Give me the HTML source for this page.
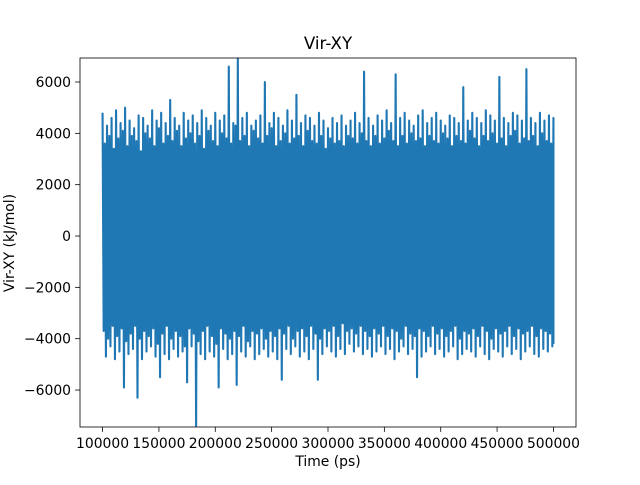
<!DOCTYPE html>
<html><head><meta charset="utf-8"><style>
body{margin:0;background:#fff;}
svg text{font-family:"DejaVu Sans","Liberation Sans",sans-serif;fill:#000;}
</style></head><body>
<svg id="chart" width="640" height="480">
<rect width="640" height="480" fill="#fff"/>
<g id="plot"></g>
<g id="axes"></g>
<text x="328" y="49" font-size="16.7" text-anchor="middle">Vir-XY</text>
<text x="328" y="466" font-size="13.9" text-anchor="middle">Time (ps)</text>
<text transform="translate(14,243) rotate(-90)" font-size="13.9" text-anchor="middle">Vir-XY (kJ/mol)</text>
</svg>
<script>
const tStart = 100000, tStep = 4000;
const highs = [4800,4300,4600,4900,4400,5000,4500,4200,4700,4600,4300,4900,4500,4800,4400,5300,4600,4300,4800,4500,4700,4400,4900,4600,4300,4800,4500,4700,6600,4400,6900,4600,4800,4300,4500,4700,6000,4400,4800,4600,4300,4900,4500,5500,4400,4700,4600,4300,4800,4500,4200,4600,4400,4700,4300,4500,4800,4400,6400,4600,4300,4700,4500,4900,4400,6300,4600,4800,4500,4300,4700,4900,4400,4600,4800,4500,4300,4700,4600,4400,5800,4500,4800,4600,4400,4900,4700,4500,6200,4600,4400,4800,4700,4500,6500,4600,4400,4800,4500,4700,4600];
const lows = [-4700,-4300,-4800,-4500,-5900,-4600,-4400,-6300,-4800,-4500,-4300,-4700,-5500,-4600,-4800,-4400,-4700,-4500,-5700,-4300,-7400,-4600,-4800,-4500,-4700,-5900,-4400,-4800,-4600,-5800,-4500,-4700,-4300,-4800,-4600,-4400,-4700,-4500,-4800,-5600,-4400,-4600,-4300,-4700,-4500,-4800,-4400,-5600,-4600,-4300,-4500,-4700,-4400,-4600,-4200,-4500,-4300,-4600,-4400,-4700,-4500,-4300,-4600,-4400,-4800,-4500,-4300,-4600,-4400,-5500,-4700,-4500,-4300,-4600,-4400,-4700,-4500,-4300,-4800,-4600,-4400,-4500,-4700,-4300,-4600,-4800,-4400,-4500,-4700,-4300,-4600,-4400,-4800,-4500,-4300,-4600,-4700,-4400,-4500,-4300,-4200];
const midHighs = [3600,3900,3400,3800,4100,3500,3900,3700,3300,4000,3800,3500,4200,3600,3900,3700,4100,3500,3800,4000,3600,3900,3400,4100,3700,3500,4000,3800,3600,4300,3700,3900,3500,4100,3800,3600,3900,4200,3500,3700,4000,3600,3800,3900,3500,4100,3700,3600,3900,3400,3800,3600,3700,3500,3900,3800,3600,4000,3700,3500,3900,3600,3800,4100,3700,3500,3900,3600,4000,3700,3800,3500,3900,3700,3600,4000,3800,3500,3900,3700,3600,4100,3800,3500,3900,3700,4000,3600,3800,3500,3900,4100,3600,3800,3700,3900,3500,4000,3700,3600,3800];
const midLows = [-3700,-4000,-3500,-3900,-3600,-4100,-3800,-3500,-4000,-3700,-3900,-3600,-4200,-3800,-3500,-4000,-3700,-3900,-4300,-3600,-3800,-4100,-3700,-3500,-3900,-4200,-3600,-3800,-4000,-3700,-3900,-3500,-4100,-3700,-3800,-3600,-4000,-3700,-3900,-3600,-3800,-3500,-4000,-3700,-3600,-3900,-3500,-3800,-4000,-3600,-3700,-3500,-3900,-3400,-3700,-3600,-3800,-3500,-3700,-3900,-3600,-3800,-3500,-3900,-3600,-3700,-4000,-3500,-3800,-3900,-3600,-3700,-3900,-3500,-3800,-3600,-3900,-3700,-3500,-4000,-3700,-3800,-3600,-3900,-3500,-3700,-4000,-3600,-3800,-3700,-3500,-3900,-3600,-3800,-3700,-3500,-3900,-3600,-3700,-3800,-3600];
const xTicks = [100000,150000,200000,250000,300000,350000,400000,450000,500000];
const yTicks = [-6000,-4000,-2000,0,2000,4000,6000];
const X0=80,X1=576,Y0=58,Y1=427;
const xmin=80000,xmax=520000,ymin=-7440,ymax=6935;
const sx=v=>X0+(v-xmin)/(xmax-xmin)*(X1-X0);
const sy=v=>Y1-(v-ymin)/(ymax-ymin)*(Y1-Y0);
const NS="http://www.w3.org/2000/svg";
const plot=document.getElementById('plot');
const axes=document.getElementById('axes');
const defs=document.createElementNS(NS,'clipPath');defs.setAttribute('id','clip');
const cr=document.createElementNS(NS,'rect');cr.setAttribute('x',X0);cr.setAttribute('y',Y0);cr.setAttribute('width',X1-X0);cr.setAttribute('height',Y1-Y0);
defs.appendChild(cr);plot.appendChild(defs);
let pts=[];
for(let i=0;i<highs.length;i++){
  const t=tStart+i*tStep;
  const last=(i===highs.length-1);
  const q=last?0:tStep/4;
  pts.push(sx(t).toFixed(2)+','+sy(highs[i]).toFixed(2));
  pts.push(sx(t+q).toFixed(2)+','+sy(midLows[i]).toFixed(2));
  pts.push(sx(t+2*q).toFixed(2)+','+sy(midHighs[i]).toFixed(2));
  pts.push(sx(t+3*q).toFixed(2)+','+sy(lows[i]).toFixed(2));
}
const pl=document.createElementNS(NS,'polyline');
pl.setAttribute('points',pts.join(' '));
pl.setAttribute('fill','none');pl.setAttribute('stroke','#1f77b4');pl.setAttribute('stroke-width','2.1');
pl.setAttribute('stroke-linejoin','round');
pl.setAttribute('clip-path','url(#clip)');


plot.appendChild(pl);
const frame=document.createElementNS(NS,'rect');
frame.setAttribute('x',X0);frame.setAttribute('y',Y0);frame.setAttribute('width',X1-X0);frame.setAttribute('height',Y1-Y0);
frame.setAttribute('fill','none');frame.setAttribute('stroke','#000');frame.setAttribute('stroke-width','0.8');


axes.appendChild(frame);
xTicks.forEach(v=>{
  const x=sx(v);
  const l=document.createElementNS(NS,'line');
  l.setAttribute('x1',x);l.setAttribute('x2',x);l.setAttribute('y1',Y1);l.setAttribute('y2',Y1+4.9);l.setAttribute('stroke','#000');l.setAttribute('stroke-width','0.8');
  
  
  axes.appendChild(l);
  const t=document.createElementNS(NS,'text');
  t.setAttribute('x',x);t.setAttribute('y',Y1+21);t.setAttribute('font-size','13.9');t.setAttribute('text-anchor','middle');
  t.textContent=v;
  
  
  axes.appendChild(t);
});
yTicks.forEach(v=>{
  const y=sy(v);
  const l=document.createElementNS(NS,'line');
  l.setAttribute('x1',X0-4.9);l.setAttribute('x2',X0);l.setAttribute('y1',y);l.setAttribute('y2',y);l.setAttribute('stroke','#000');l.setAttribute('stroke-width','0.8');
  
  
  axes.appendChild(l);
  const t=document.createElementNS(NS,'text');
  t.setAttribute('x',X0-9);t.setAttribute('y',y+5);t.setAttribute('font-size','13.9');t.setAttribute('text-anchor','end');
  t.textContent=v<0?'\u2212'+(-v):v;
  
  
  axes.appendChild(t);
});
</script>
</body></html>
